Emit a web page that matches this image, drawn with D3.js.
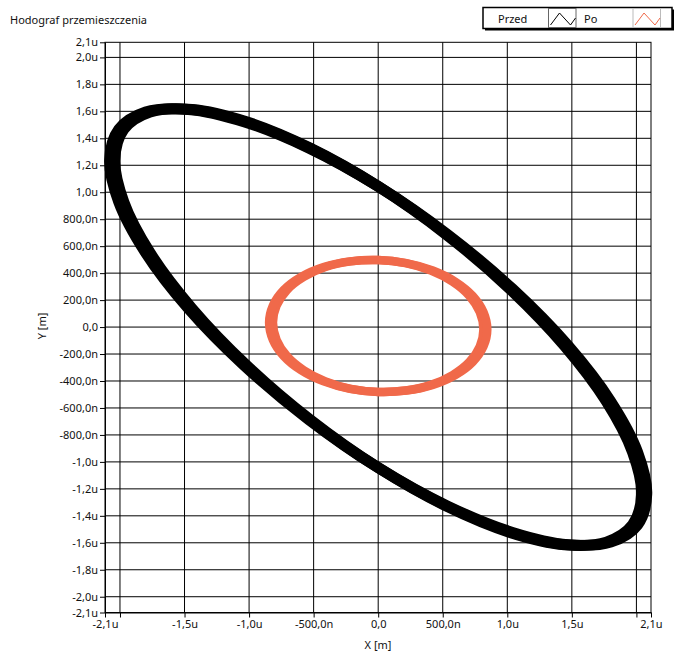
<!DOCTYPE html>
<html>
<head>
<meta charset="utf-8">
<script src="https://cdn.jsdelivr.net/npm/d3@7"></script>
<style>
  body { margin: 0; background: #fff; }
  svg { display: block; }
  text { font-family: "Noto Sans", sans-serif; fill: #111; }
</style>
</head>
<body>
<svg id="chart" width="676" height="654"></svg>
<script>
// values in micrometres (u)
const xDomain = [-2.116, 2.113]
const yDomain = [-2.117, 2.112]

const xTickVals = [-2.116, -2.0, -1.5, -1.0, -0.5, 0, 0.5, 1.0, 1.5, 2.0, 2.113]
const xTickLabels = ["-2,1u", "", "-1,5u", "-1,0u", "-500,0n", "0,0", "500,0n", "1,0u", "1,5u", "", "2,1u"]
const yTickVals = [-2.117, -2.0, -1.8, -1.6, -1.4, -1.2, -1.0, -0.8, -0.6, -0.4, -0.2, 0, 0.2, 0.4, 0.6, 0.8, 1.0, 1.2, 1.4, 1.6, 1.8, 2.0, 2.112]
const yTickLabels = ["-2,1u", "-2,0u", "-1,8u", "-1,6u", "-1,4u", "-1,2u", "-1,0u", "-800,0n", "-600,0n", "-400,0n", "-200,0n", "0,0",
  "200,0n", "400,0n", "600,0n", "800,0n", "1,0u", "1,2u", "1,4u", "1,6u", "1,8u", "2,0u", "2,1u"]

// "Przed" – two traced loops
const przedX1 = [2.040, 1.970, 1.767, 1.442, 1.020, 0.528, 0, -0.528, -1.020, -1.442, -1.767, -1.970,
  -2.040, -1.970, -1.767, -1.442, -1.020, -0.528, 0, 0.528, 1.020, 1.442, 1.767, 1.970]
const przedX2 = [2.080, 2.009, 1.801, 1.471, 1.040, 0.538, 0, -0.538, -1.040, -1.471, -1.801, -2.009,
  -2.080, -2.009, -1.801, -1.471, -1.040, -0.538, 0, 0.538, 1.040, 1.471, 1.801, 2.009]
const przedY = [-1.239, -1.467, -1.595, -1.614, -1.523, -1.328, -1.043, -0.686, -0.283, 0.138, 0.551, 0.927,
  1.239, 1.467, 1.595, 1.614, 1.523, 1.328, 1.043, 0.686, 0.283, -0.138, -0.551, -0.927]

// "Po" – two traced loops
const poX1 = [0.815, 0.787, 0.706, 0.576, 0.408, 0.211, 0, -0.211, -0.408, -0.576, -0.706, -0.787,
  -0.815, -0.787, -0.706, -0.576, -0.408, -0.211, 0, 0.211, 0.408, 0.576, 0.706, 0.787]
const poX2 = [0.845, 0.816, 0.732, 0.598, 0.423, 0.219, 0, -0.219, -0.423, -0.598, -0.732, -0.816,
  -0.845, -0.816, -0.732, -0.598, -0.423, -0.219, 0, 0.219, 0.423, 0.598, 0.732, 0.816]
const poY = [-0.018, -0.143, -0.259, -0.356, -0.429, -0.471, -0.481, -0.458, -0.403, -0.320, -0.215, -0.094,
  0.034, 0.159, 0.275, 0.372, 0.445, 0.487, 0.497, 0.474, 0.419, 0.336, 0.231, 0.110]

const legendNames = ["Przed", "Po"]
const colors = ["#000000", "#f0694a"]

const svg = d3.select("#chart")
const pLeft = 105, pRight = 651, pTop = 42.3, pBottom = 612.5

const x = d3.scaleLinear().domain(xDomain).range([pLeft, pRight])
const y = d3.scaleLinear().domain(yDomain).range([pBottom, pTop])

// title
svg.append("text").attr("x", 10).attr("y", 24).style("font-size", "11px").text("Hodograf przemieszczenia")

// grid
const grid = svg.append("g")
grid.selectAll(".gx").data(xTickVals.slice(1, -1)).enter().append("line")
  .attr("x1", d => x(d)).attr("x2", d => x(d)).attr("y1", pTop).attr("y2", pBottom)
  .attr("stroke", "#000").attr("stroke-width", 1)
grid.selectAll(".gy").data(yTickVals.slice(1, -1)).enter().append("line")
  .attr("y1", d => y(d)).attr("y2", d => y(d)).attr("x1", pLeft).attr("x2", pRight)
  .attr("stroke", "#000").attr("stroke-width", 1)

// frame
svg.append("rect").attr("x", pLeft).attr("y", pTop).attr("width", pRight - pLeft).attr("height", pBottom - pTop)
  .attr("fill", "none").attr("stroke", "#000").attr("stroke-width", 1)

// curves
const line = d3.line().curve(d3.curveCatmullRomClosed)
function pts(xs, ys) { return xs.map((v, i) => [x(v), y(ys[i])]) }

const plots = svg.append("g")
plots.append("path").attr("d", line(pts(przedX1, przedY)))
  .attr("fill", "none").attr("stroke", colors[0]).attr("stroke-width", 11)
plots.append("path").attr("d", line(pts(przedX2, przedY)))
  .attr("fill", "none").attr("stroke", colors[0]).attr("stroke-width", 11)
plots.append("path").attr("d", line(pts(poX1, poY)))
  .attr("fill", "none").attr("stroke", colors[1]).attr("stroke-width", 8.5)
plots.append("path").attr("d", line(pts(poX2, poY)))
  .attr("fill", "none").attr("stroke", colors[1]).attr("stroke-width", 8.5)

// axes
const xAxis = d3.axisBottom(x).tickValues(xTickVals).tickFormat((d, i) => xTickLabels[i])
  .tickSize(5).tickSizeOuter(0).tickPadding(3)
const yAxis = d3.axisLeft(y).tickValues(yTickVals).tickFormat((d, i) => yTickLabels[i])
  .tickSize(5).tickSizeOuter(0).tickPadding(2)

const gx = svg.append("g").attr("transform", `translate(0,${pBottom})`).call(xAxis)
const gy = svg.append("g").attr("transform", `translate(${pLeft},0)`).call(yAxis)
;[gx, gy].forEach(g => {
  g.select(".domain").attr("stroke", "#000")
  g.selectAll(".tick line").attr("stroke", "#000")
  g.selectAll(".tick text").style("font-family", "Noto Sans").style("font-size", "11px").attr("fill", "#1a1a2a")
})

// axis titles
svg.append("text").attr("x", 378).attr("y", 649).attr("text-anchor", "middle")
  .style("font-size", "11px").text("X [m]")
svg.append("text").attr("transform", "translate(46,326) rotate(-90)").attr("text-anchor", "middle")
  .style("font-size", "11px").text("Y [m]")

// legend
const lg = svg.append("g")
lg.append("rect").attr("x", 485).attr("y", 9.5).attr("width", 189).attr("height", 21).attr("fill", "#000")
lg.append("rect").attr("x", 483).attr("y", 7.5).attr("width", 189).attr("height", 21)
  .attr("fill", "#fff").attr("stroke", "#000").attr("stroke-width", 1.5)
const cells = [{tx: 498, ix: 548.5}, {tx: 584, ix: 633}]
cells.forEach((c, i) => {
  lg.append("text").attr("x", c.tx).attr("y", 22.5).style("font-size", "11px").text(legendNames[i])
  lg.append("rect").attr("x", c.ix).attr("y", 8.5).attr("width", 27.5).attr("height", 19)
    .attr("fill", "#fff").attr("stroke", i === 0 ? "#666" : "#bbb").attr("stroke-width", 1)
  lg.append("polyline")
    .attr("points", [[c.ix + 2, 25], [c.ix + 11, 13], [c.ix + 22, 25], [c.ix + 27, 18]].join(" "))
    .attr("fill", "none").attr("stroke", colors[i]).attr("stroke-width", 1)
})
</script>
</body>
</html>
